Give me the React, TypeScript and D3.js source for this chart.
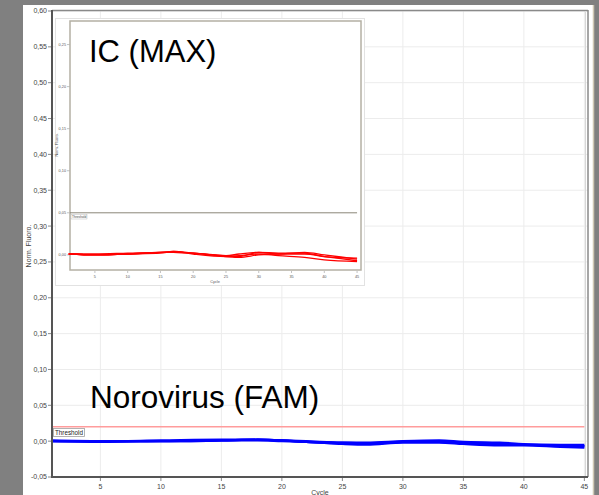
import React from "react";
import * as d3 from "d3";

// Main chart: Norovirus (FAM) amplification curves
const mainCycles = [1, 5, 10, 15, 18, 20, 22, 25, 27, 30, 33, 35, 38, 40, 43, 45];
const famCurve1 = [0.0, 0.0, 0.001, 0.002, 0.002, 0.001, -0.001, -0.003, -0.004, -0.001, -0.001, -0.003, -0.004, -0.005, -0.006, -0.007];
const famCurve2 = [0.001, 0.0, 0.0, 0.001, 0.002, 0.001, 0.0, -0.002, -0.002, 0.0, 0.001, -0.001, -0.002, -0.004, -0.005, -0.005];
const famCurve3 = [0.0, -0.001, 0.0, 0.001, 0.001, 0.0, -0.001, -0.004, -0.005, -0.002, -0.002, -0.004, -0.006, -0.006, -0.008, -0.009];
const famCurve4 = [0.0, 0.0, 0.0, 0.001, 0.002, 0.001, -0.001, -0.002, -0.003, -0.001, 0.0, -0.002, -0.003, -0.005, -0.006, -0.007];
const famThreshold = 0.02;

const mainYTicks = [0.6, 0.55, 0.5, 0.45, 0.4, 0.35, 0.3, 0.25, 0.2, 0.15, 0.1, 0.05, 0.0, -0.05];
const xTicks = [5, 10, 15, 20, 25, 30, 35, 40, 45];

// Inset chart: internal control (MAX) curves
const insetCycles = [1, 5, 10, 15, 17, 20, 25, 27, 30, 33, 37, 40, 45];
const maxCurve1 = [0.001, 0.0, 0.001, 0.003, 0.004, 0.002, -0.001, -0.002, 0.003, 0.002, 0.002, -0.002, -0.004];
const maxCurve2 = [0.001, 0.001, 0.002, 0.003, 0.003, 0.002, -0.002, -0.003, 0.0, 0.001, 0.001, -0.002, -0.007];
const maxCurve3 = [0.001, 0.0, 0.001, 0.002, 0.004, 0.001, -0.002, -0.001, 0.001, -0.001, -0.003, -0.006, -0.008];
const maxCurve4 = [0.001, 0.0, 0.001, 0.003, 0.003, 0.002, -0.001, 0.001, 0.003, 0.001, 0.003, 0.0, -0.005];
const maxThreshold = 0.05;
const insetYTicks = [0.25, 0.2, 0.15, 0.1, 0.05, 0.0];

const fmt = (v: number) => v.toFixed(2).replace(".", ",");
const FONT = "Liberation Sans, Arial, sans-serif";

export default function App() {
  const W = 599;
  const H = 495;

  // main scales
  const x = d3.scaleLinear().domain([1, 45.3]).range([52, 588]);
  const y = d3.scaleLinear().domain([-0.05, 0.6]).range([477, 11]);

  // inset scales
  const ix = d3.scaleLinear().domain([1.2, 45.6]).range([70, 361]);
  const iy = d3.scaleLinear().domain([-0.018, 0.278]).range([270, 21]);

  const mainLine = d3
    .line<number>()
    .x((_, i) => x(mainCycles[i]))
    .y((d) => y(d))
    .curve(d3.curveMonotoneX);

  const insetLine = d3
    .line<number>()
    .x((_, i) => ix(insetCycles[i]))
    .y((d) => iy(d))
    .curve(d3.curveMonotoneX);

  const famSeries = [famCurve1, famCurve2, famCurve3, famCurve4];
  const maxSeries = [maxCurve1, maxCurve2, maxCurve3, maxCurve4];

  return (
    <svg
      width={W}
      height={H}
      style={{ position: "absolute", left: 0, top: 0, display: "block" }}
      fontFamily={FONT}
    >
      {/* window background */}
      <rect x={0} y={0} width={W} height={H} fill="#808080" />
      <rect x={23} y={5} width={570} height={H - 5} fill="#ffffff" />
      <line x1={593.5} x2={593.5} y1={5} y2={H} stroke="#cfc8b4" strokeWidth={1.5} />

      {/* grid */}
      {xTicks.map((t) => (
        <line key={"gx" + t} x1={x(t)} x2={x(t)} y1={11} y2={477} stroke="#ececec" strokeWidth={1} />
      ))}
      {mainYTicks.map((t) => (
        <line key={"gy" + t} x1={52} x2={588} y1={y(t)} y2={y(t)} stroke="#ececec" strokeWidth={1} />
      ))}

      {/* frame */}
      <line x1={52} x2={588} y1={10.5} y2={10.5} stroke="#8a8a8a" strokeWidth={1.5} />
      <line x1={588} x2={588} y1={10} y2={477} stroke="#8a8a8a" strokeWidth={1.5} />
      <line x1={585.5} x2={585.5} y1={12} y2={476} stroke="#d8d8d8" strokeWidth={1} />

      {/* y axis ticks */}
      {mainYTicks.map((t) => (
        <g key={"yt" + t}>
          <line x1={48} x2={51} y1={y(t)} y2={y(t)} stroke="#888" strokeWidth={1} />
          <text x={47} y={y(t)} dy="0.35em" textAnchor="end" fontSize={7} fill="#444">
            {fmt(t)}
          </text>
        </g>
      ))}
      {/* x axis ticks */}
      {xTicks.map((t) => (
        <g key={"xt" + t}>
          <line x1={x(t)} x2={x(t)} y1={478} y2={481} stroke="#888" strokeWidth={1} />
          <text x={x(t)} y={489} textAnchor="middle" fontSize={7} fill="#444">
            {t}
          </text>
        </g>
      ))}
      <text x={320} y={494.5} textAnchor="middle" fontSize={7} fill="#444">
        Cycle
      </text>
      <text
        transform={`translate(31, 246) rotate(-90)`}
        textAnchor="middle"
        fontSize={7}
        fill="#444"
      >
        Norm. Fluoro.
      </text>

      {/* threshold */}
      <line x1={52} x2={x(45)} y1={y(famThreshold)} y2={y(famThreshold)} stroke="#ff9c9c" strokeWidth={1.6} />
      <rect x={53.5} y={428.5} width={31} height={8} fill="#fff" stroke="#a0a0a0" strokeWidth={0.8} />
      <text x={55} y={435} fontSize={6.3} fill="#222">
        Threshold
      </text>

      {/* FAM curves */}
      {famSeries.map((s, i) => (
        <path key={"fam" + i} d={mainLine(s) || ""} fill="none" stroke="#0000ff" strokeWidth={2.2} />
      ))}

      {/* axes lines */}
      <line x1={52} x2={52} y1={10} y2={478} stroke="#555" strokeWidth={2} />
      <line x1={51} x2={588} y1={477} y2={477} stroke="#555" strokeWidth={2} />

      <text x={90} y={408} fontSize={31.5} fill="#000">
        Norovirus (FAM)
      </text>

      {/* inset */}
      <rect x={55.5} y={18.5} width={309} height={267} fill="#fff" stroke="#e2e2e2" strokeWidth={1} />
      <rect x={70} y={21} width={291} height={249} fill="none" stroke="#b4b0a4" strokeWidth={1.5} />
      {insetYTicks.map((t) => (
        <g key={"iyt" + t}>
          <line x1={67} x2={69.5} y1={iy(t)} y2={iy(t)} stroke="#999" strokeWidth={0.6} />
          <text x={66} y={iy(t)} dy="0.35em" textAnchor="end" fontSize={3.8} fill="#555">
            {fmt(t)}
          </text>
        </g>
      ))}
      {xTicks.map((t) => (
        <g key={"ixt" + t}>
          <line x1={ix(t)} x2={ix(t)} y1={271} y2={273} stroke="#999" strokeWidth={0.6} />
          <text x={ix(t)} y={278} textAnchor="middle" fontSize={3.8} fill="#555">
            {t}
          </text>
        </g>
      ))}
      <text x={215} y={283} textAnchor="middle" fontSize={3.8} fill="#555">
        Cycle
      </text>
      <text transform={`translate(58, 145) rotate(-90)`} textAnchor="middle" fontSize={3.8} fill="#555">
        Norm. Fluoro.
      </text>

      <line x1={70} x2={ix(45)} y1={iy(maxThreshold)} y2={iy(maxThreshold)} stroke="#8a8678" strokeWidth={1} />
      <rect x={71} y={214.5} width={16} height={4.5} fill="#fff" stroke="#aaa" strokeWidth={0.4} />
      <text x={72} y={218} fontSize={3.2} fill="#444">
        Threshold
      </text>

      {maxSeries.map((s, i) => (
        <path key={"max" + i} d={insetLine(s) || ""} fill="none" stroke="#ff0000" strokeWidth={1.3} />
      ))}

      <text x={89} y={62} fontSize={31} fill="#000">
        IC (MAX)
      </text>
    </svg>
  );
}
